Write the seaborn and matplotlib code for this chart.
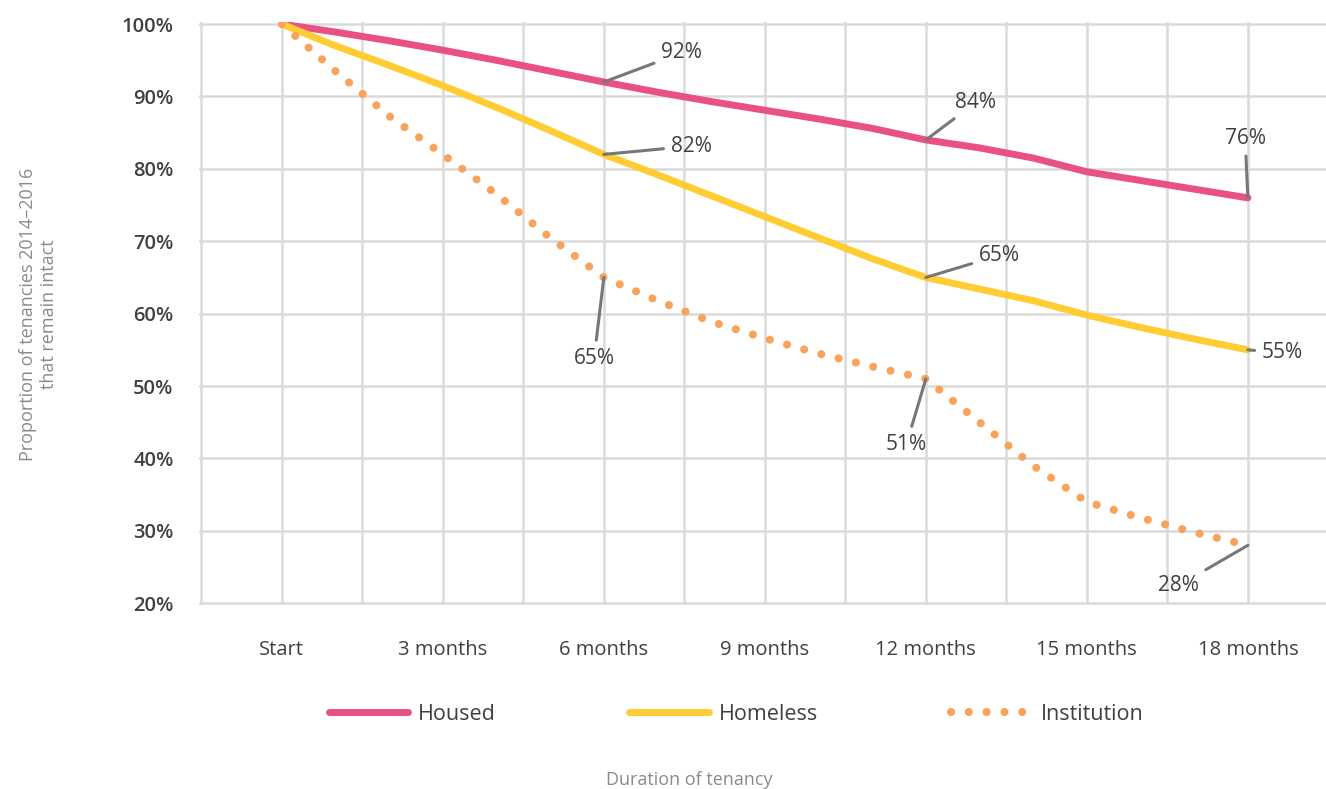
import matplotlib
matplotlib.use("Agg")
import matplotlib.pyplot as plt
import numpy as np
import pandas as pd
import seaborn as sns

# data (months since start, % of tenancies intact)
months = [0, 1, 2, 3, 4, 5, 6, 7, 8, 9, 10, 11, 12, 13, 14, 15, 16, 17, 18]
housed = [100, 98.9, 97.7, 96.4, 95.0, 93.5, 92, 90.6, 89.3, 88.1, 86.9, 85.6, 84,
          82.9, 81.5, 79.6, 78.4, 77.2, 76]
homeless = [100, 97.0, 94.3, 91.5, 88.5, 85.3, 82, 79.2, 76.3, 73.4, 70.5, 67.6, 65,
            63.4, 61.8, 59.8, 58.1, 56.5, 55]
institution = [100, 93.5, 87.3, 82.0, 76.5, 70.5, 65, 61.8, 58.9, 56.6, 54.5, 52.7, 51,
               45.0, 39.0, 34.0, 31.8, 29.8, 28]

tick_months = [0, 3, 6, 9, 12, 15, 18]
tick_labels = ["Start", "3 months", "6 months", "9 months", "12 months", "15 months", "18 months"]

# callouts: (month, value, label, offset in points)
callouts = [
    (6, 92, "92%", (56, 21)),
    (12, 84, "84%", (36, 27)),
    (18, 76, "76%", (-2, 43)),
    (6, 82, "82%", (63, 6)),
    (12, 65, "65%", (53, 16)),
    (18, 55, "55%", (25, -2)),
    (6, 65, "65%", (-7, -58)),
    (12, 51, "51%", (-14, -47)),
    (18, 28, "28%", (-50, -29)),
]

pink = "#E95182"
yellow = "#FFCC33"
orange = "#F9A25A"
grid_col = "#DADADA"
text_col = "#404040"

sns.set_style("white")
plt.rcParams["font.family"] = ["Open Sans", "DejaVu Sans"]

fig = plt.figure(figsize=(13.26, 7.89), dpi=100)
ax = fig.add_axes([0.1498, 0.2327, 0.852, 0.7395])

sns.lineplot(x=months, y=housed, ax=ax, color=pink, lw=5, label="Housed",
             solid_capstyle="round")
sns.lineplot(x=months, y=homeless, ax=ax, color=yellow, lw=5, label="Homeless",
             solid_capstyle="round")
sns.lineplot(x=months, y=institution, ax=ax, color=orange, lw=5.8, label="Institution",
             linestyle=(0, (0.01, 2.2)), dash_capstyle="round")

ax.set_xlim(-1.55, 19.45)
ax.set_ylim(19.7, 100.3)
ax.set_xticks(tick_months)
ax.set_xticklabels(tick_labels)
ax.set_xticks(np.arange(-1.5, 19.6, 1.5), minor=True)
ax.set_yticks(np.arange(20, 101, 10))
ax.set_yticklabels([f"{v}%" for v in range(20, 101, 10)])
ax.tick_params(axis="both", which="both", length=0)
ax.tick_params(axis="x", pad=25, labelsize=14.5, labelcolor=text_col)
ax.tick_params(axis="y", pad=18, labelsize=14.5, labelcolor=text_col)
for lab in ax.get_yticklabels():
    lab.set_fontweight("semibold")
ax.grid(axis="x", which="both", color=grid_col, lw=1.8)
ax.grid(axis="y", which="major", color=grid_col, lw=1.8)
ax.set_axisbelow(True)
for s in ax.spines.values():
    s.set_visible(False)
ax.set_xlabel("")
ax.set_ylabel("")

for m, v, lab, off in callouts:
    ax.annotate(lab, xy=(m, v), xytext=off, textcoords="offset points",
                ha="center", va="center", fontsize=15, color=text_col,
                arrowprops=dict(arrowstyle="-", color="#777777", lw=2.2,
                                shrinkA=3, shrinkB=0))

handles, labels = ax.get_legend_handles_labels()
ax.get_legend().remove()
fig.legend(handles, labels, loc="center", bbox_to_anchor=(0.555, 1 - 714 / 789),
           ncol=3, frameon=False, fontsize=15.5, handlelength=3.7, handletextpad=0.45,
           columnspacing=6.2, labelcolor=text_col)

fig.text(0.029, 1 - 314 / 789, "Proportion of tenancies 2014–2016\nthat remain intact",
         rotation=90, ha="center", va="center", multialignment="center",
         fontsize=13, color="#8A8A8A")
fig.text(0.52, 1 - 780 / 789, "Duration of tenancy", ha="center", va="center",
         fontsize=13, color="#8A8A8A")

fig.savefig("out.png", dpi=100)
